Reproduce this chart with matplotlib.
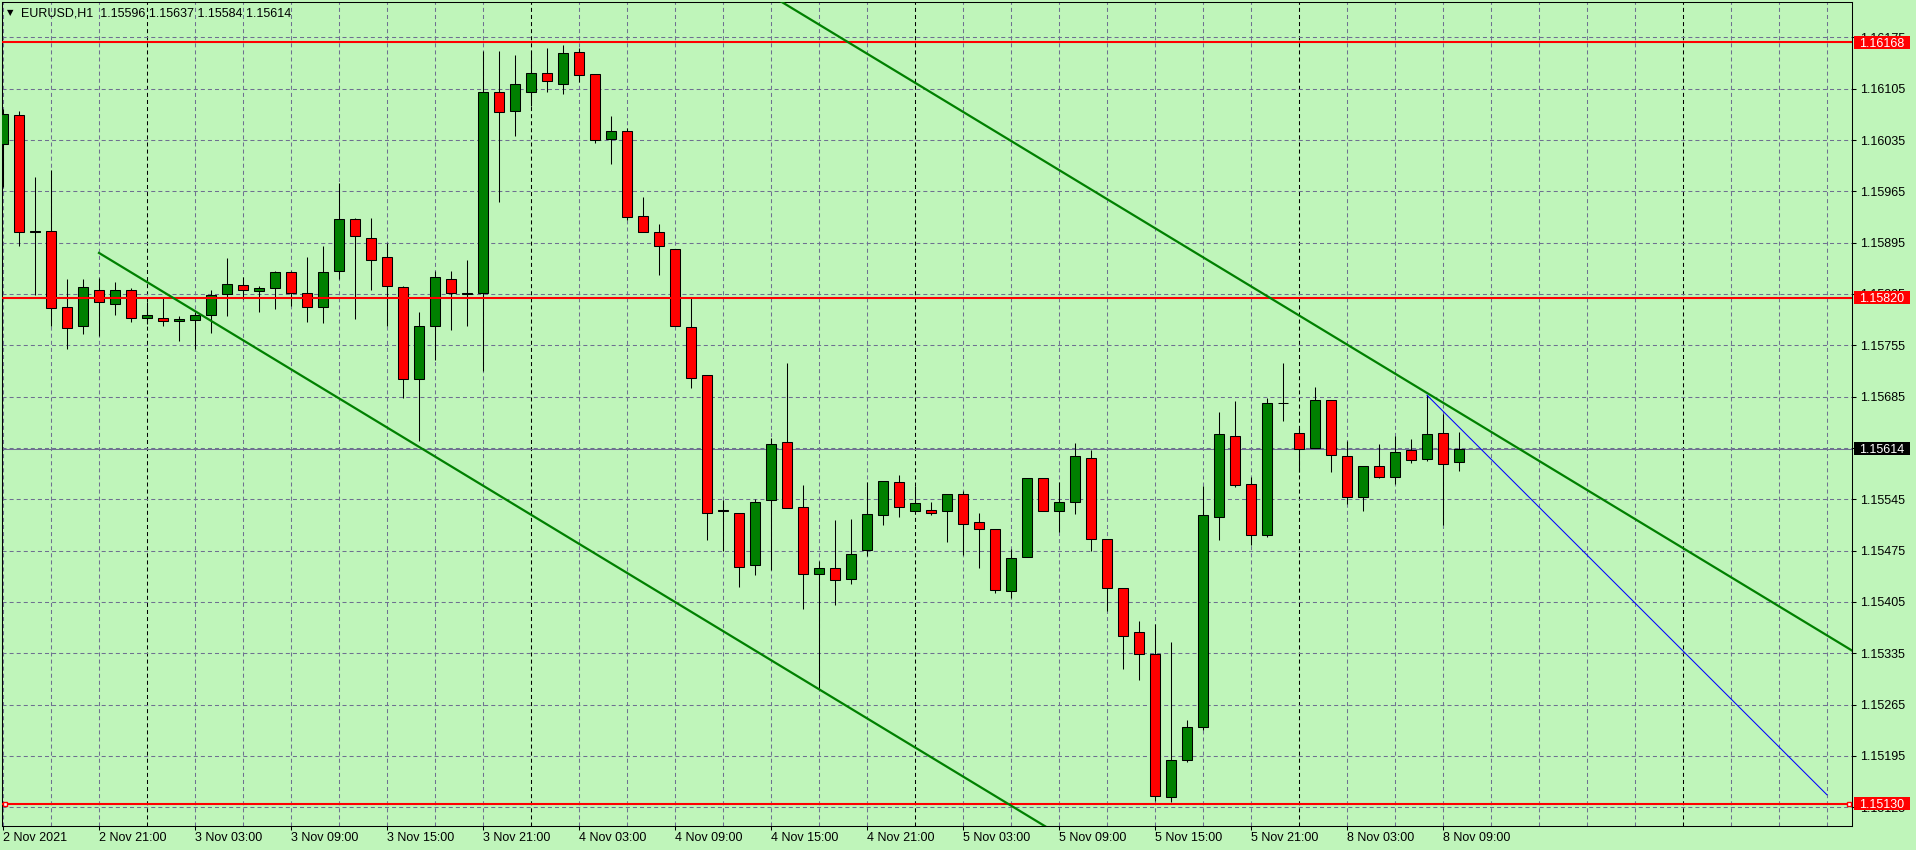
import matplotlib
matplotlib.use('Agg')
import matplotlib.pyplot as plt
import matplotlib.transforms as mtransforms
from matplotlib.patches import Rectangle
import numpy as np

plt.rcParams['font.family'] = ['Liberation Sans', 'DejaVu Sans']
plt.rcParams['lines.scale_dashes'] = False

# EURUSD H1, bar 0 = 2 Nov 2021 15:00, last bar = 8 Nov 10:00
opens = [1.16029, 1.16069, 1.15909, 1.15911, 1.15807, 1.15781, 1.15830, 1.15811, 1.15831, 1.15792,
         1.15792, 1.15788, 1.15789, 1.15797, 1.15825, 1.15837, 1.15829, 1.15833, 1.15855, 1.15826,
         1.15807, 1.15856, 1.15927, 1.15902, 1.15875, 1.15834, 1.15709, 1.15781, 1.15846, 1.15826,
         1.15827, 1.16100, 1.16074, 1.16100, 1.16127, 1.16111, 1.16155, 1.16125, 1.16036, 1.16047,
         1.15931, 1.15909, 1.15887, 1.15780, 1.15714, 1.15530, 1.15526, 1.15455, 1.15544, 1.15623,
         1.15534, 1.15443, 1.15451, 1.15437, 1.15476, 1.15523, 1.15568, 1.15529, 1.15531, 1.15529,
         1.15552, 1.15514, 1.15504, 1.15420, 1.15466, 1.15574, 1.15529, 1.15541, 1.15602, 1.15491,
         1.15424, 1.15364, 1.15334, 1.15139, 1.15189, 1.15235, 1.15521, 1.15632, 1.15566, 1.15497,
         1.15677, 1.15636, 1.15615, 1.15681, 1.15604, 1.15548, 1.15590, 1.15576, 1.15612, 1.15600,
         1.15635, 1.15596]
highs = [1.16077, 1.16075, 1.15985, 1.15994, 1.15845, 1.15845, 1.15847, 1.15841, 1.15833, 1.15814,
         1.15821, 1.15795, 1.15801, 1.15830, 1.15874, 1.15848, 1.15836, 1.15856, 1.15856, 1.15875,
         1.15890, 1.15976, 1.15928, 1.15928, 1.15895, 1.15836, 1.15800, 1.15857, 1.15856, 1.15871,
         1.16157, 1.16157, 1.16151, 1.16157, 1.16161, 1.16165, 1.16161, 1.16125, 1.16068, 1.16051,
         1.15957, 1.15921, 1.15887, 1.15819, 1.15714, 1.15544, 1.15526, 1.15545, 1.15628, 1.15731,
         1.15565, 1.15461, 1.15517, 1.15518, 1.15568, 1.15570, 1.15578, 1.15563, 1.15542, 1.15552,
         1.15556, 1.15526, 1.15504, 1.15477, 1.15574, 1.15574, 1.15568, 1.15622, 1.15612, 1.15491,
         1.15424, 1.15379, 1.15375, 1.15351, 1.15244, 1.15563, 1.15664, 1.15679, 1.15576, 1.15683,
         1.15731, 1.15642, 1.15698, 1.15681, 1.15625, 1.15590, 1.15621, 1.15631, 1.15627, 1.15687,
         1.15662, 1.15637]
lows = [1.15971, 1.15890, 1.15823, 1.15781, 1.15750, 1.15770, 1.15768, 1.15797, 1.15787, 1.15784,
        1.15782, 1.15761, 1.15750, 1.15772, 1.15795, 1.15818, 1.15801, 1.15804, 1.15808, 1.15787,
        1.15785, 1.15845, 1.15791, 1.15830, 1.15782, 1.15683, 1.15625, 1.15735, 1.15776, 1.15782,
        1.15720, 1.15951, 1.16041, 1.16081, 1.16100, 1.16098, 1.16114, 1.16031, 1.16002, 1.15926,
        1.15909, 1.15851, 1.15781, 1.15697, 1.15489, 1.15474, 1.15426, 1.15442, 1.15448, 1.15533,
        1.15396, 1.15285, 1.15401, 1.15429, 1.15468, 1.15510, 1.15521, 1.15529, 1.15523, 1.15487,
        1.15469, 1.15451, 1.15417, 1.15410, 1.15466, 1.15529, 1.15501, 1.15525, 1.15474, 1.15393,
        1.15313, 1.15299, 1.15134, 1.15132, 1.15187, 1.15230, 1.15490, 1.15562, 1.15483, 1.15493,
        1.15652, 1.15582, 1.15615, 1.15582, 1.15538, 1.15529, 1.15574, 1.15566, 1.15594, 1.15597,
        1.15510, 1.15584]
closes = [1.16070, 1.15909, 1.15911, 1.15806, 1.15778, 1.15834, 1.15814, 1.15830, 1.15792, 1.15796,
          1.15788, 1.15791, 1.15797, 1.15823, 1.15838, 1.15830, 1.15833, 1.15855, 1.15826, 1.15807,
          1.15855, 1.15927, 1.15904, 1.15872, 1.15836, 1.15709, 1.15781, 1.15848, 1.15826, 1.15825,
          1.16100, 1.16073, 1.16112, 1.16127, 1.16115, 1.16153, 1.16123, 1.16035, 1.16047, 1.15930,
          1.15909, 1.15890, 1.15781, 1.15710, 1.15527, 1.15529, 1.15453, 1.15542, 1.15621, 1.15533,
          1.15443, 1.15452, 1.15435, 1.15470, 1.15525, 1.15570, 1.15534, 1.15540, 1.15527, 1.15552,
          1.15511, 1.15504, 1.15421, 1.15465, 1.15574, 1.15529, 1.15541, 1.15604, 1.15491, 1.15424,
          1.15358, 1.15334, 1.15141, 1.15189, 1.15235, 1.15523, 1.15634, 1.15564, 1.15497, 1.15677,
          1.15676, 1.15613, 1.15681, 1.15605, 1.15548, 1.15590, 1.15576, 1.15610, 1.15598, 1.15634,
          1.15593, 1.15614]

tick_bars = [0, 6, 12, 18, 24, 30, 36, 42, 48, 54, 60, 66, 72, 78, 84, 90]
tick_texts = ['2 Nov 2021', '2 Nov 21:00', '3 Nov 03:00', '3 Nov 09:00', '3 Nov 15:00',
              '3 Nov 21:00', '4 Nov 03:00', '4 Nov 09:00', '4 Nov 15:00', '4 Nov 21:00',
              '5 Nov 03:00', '5 Nov 09:00', '5 Nov 15:00', '5 Nov 21:00', '8 Nov 03:00',
              '8 Nov 09:00']
day_starts = [9, 33, 57, 81, 105]

levels = [1.16168, 1.15820, 1.15130]
bid = closes[-1]

# trend lines: two anchors each (bar, price)
chan_low = [(6, 1.15881), (60, 1.15167)]
chan_high = [(35, 1.16404), (89, 1.15690)]
blue_seg = [(89, 1.15687), (114, 1.15142)]

bg = '#BFF5BA'
grid_c = '#6E7090'
bull = '#008000'
bear = '#FF0000'
dash = (0, (2.9, 2.2))

W, H = 1916, 850
fig = plt.figure(figsize=(W / 100, H / 100), dpi=100, facecolor=bg)
ax = fig.add_axes([2 / W, 1 - 826 / H, 1850 / W, 824 / H])
ax.set_facecolor(bg)

x_lo, x_hi = -0.0625, 115.5625
y_lo, y_hi = 1.150995, 1.162232
ax.set_xlim(x_lo, x_hi)
ax.set_ylim(y_lo, y_hi)

yticks = [round(1.15125 + 0.0007 * i, 5) for i in range(16)]

# grid
for k in range(0, 116, 3):
    if k in day_starts:
        continue
    ax.axvline(k, color=grid_c, lw=0.75, ls=dash, zorder=1)
for k in day_starts:
    ax.axvline(k, color='black', lw=0.75, ls=dash, zorder=1)
for t in yticks:
    ax.axhline(t, color=grid_c, lw=0.75, ls=dash, zorder=1)

ax.axhline(bid, color=grid_c, lw=0.75, zorder=2)

# candles
o, h, l, c = map(np.array, (opens, highs, lows, closes))
xs = np.arange(len(o))
up = c >= o
ax.vlines(xs, l, h, color='black', lw=0.75, zorder=3)
ax.bar(xs, c - o, bottom=o, width=0.62, color=np.where(up, bull, bear),
       edgecolor='black', linewidth=0.75, zorder=4)

# objects
for lv in levels:
    ax.axhline(lv, color='#FF0000', lw=1.5, zorder=5)
ax.plot([x_lo + 0.19, x_hi - 0.19], [levels[2], levels[2]], 's', ms=3.5,
        mfc='white', mec='#FF0000', mew=1, zorder=6, clip_on=False)


def ray(p0, p1, x_end):
    slope = (p1[1] - p0[1]) / (p1[0] - p0[0])
    return [p0[0], x_end], [p0[1], p0[1] + slope * (x_end - p0[0])]


lx, ly = ray(chan_low[0], chan_low[1], x_hi + 5)
ax.plot(lx, ly, color=bull, lw=1.6, zorder=5)
start = (30, chan_high[0][1] + (30 - chan_high[0][0]) *
         (chan_high[1][1] - chan_high[0][1]) / (chan_high[1][0] - chan_high[0][0]))
hx, hy = ray(start, chan_high[1], x_hi + 5)
ax.plot(hx, hy, color=bull, lw=1.6, zorder=5)
ax.plot([p[0] for p in blue_seg], [p[1] for p in blue_seg], color='#0000FF', lw=0.75, zorder=5)

# axes
for s in ax.spines.values():
    s.set_color('black')
    s.set_linewidth(0.75)
ax.yaxis.tick_right()
ax.set_yticks(yticks, [f'{t:.5f}' for t in yticks])
ax.set_xticks(tick_bars, tick_texts, ha='left')
ax.tick_params(axis='y', direction='out', length=3, width=0.75, pad=2.5, labelsize=9, colors='black')
ax.tick_params(axis='x', direction='out', length=3, width=0.75, pad=1.5, labelsize=9, colors='black')

# price boxes on the scale
trans = mtransforms.blended_transform_factory(fig.transFigure, ax.transData)
half = 6.5 * (y_hi - y_lo) / 824


def price_box(p, fc):
    ax.add_patch(Rectangle((1854 / W, p - half), 56 / W, 2 * half, transform=trans,
                           fc=fc, ec='none', clip_on=False, zorder=6))
    ax.text(1859 / W, p, f'{p:.5f}', transform=trans, color='white', ha='left',
            va='center_baseline', fontsize=9, zorder=7, clip_on=False)


for lv in levels:
    price_box(lv, '#FF0000')
price_box(bid, 'black')

# header
fig.text(7 / W, 1 - 13 / H, '▼', fontsize=6, va='center', ha='left', color='black',
         family=['DejaVu Sans'])
fig.text(21 / W, 1 - 13 / H,
         f'EURUSD,H1  {opens[-1]:.5f} {highs[-1]:.5f} {lows[-1]:.5f} {closes[-1]:.5f}',
         fontsize=9, va='center', ha='left', color='black')

fig.savefig('out.png', dpi=100, facecolor=bg)
